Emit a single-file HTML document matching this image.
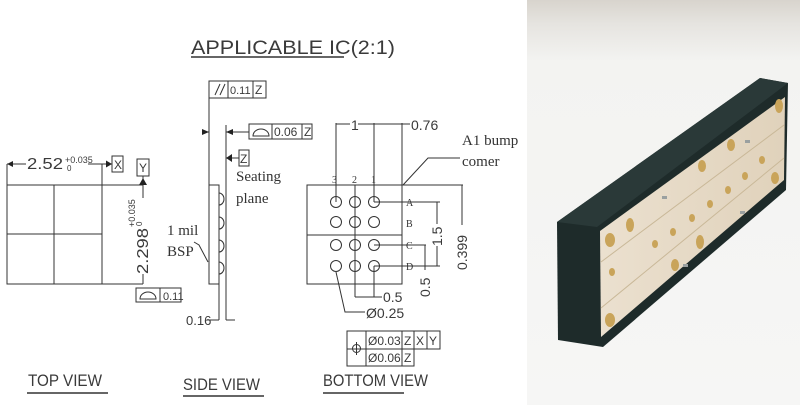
<!DOCTYPE html>
<html><head><meta charset="utf-8"><style>
html,body{margin:0;padding:0;background:#fff;}
svg{display:block}
.s{font-family:"Liberation Sans",sans-serif;fill:#3a3a3a}
.r{font-family:"Liberation Serif",serif;fill:#333}
</style></head><body>
<svg width="800" height="405" viewBox="0 0 800 405" xmlns="http://www.w3.org/2000/svg">
<rect width="800" height="405" fill="#fff"/>
<g stroke="#333" stroke-width="1" fill="none">
<line x1="191" y1="57" x2="344" y2="57" stroke-width="1.5"/>
<!-- top view -->
<rect x="7" y="185" width="95" height="99"/>
<line x1="54" y1="185" x2="54" y2="284"/>
<line x1="7" y1="234" x2="102" y2="234"/>
<line x1="7" y1="164" x2="7" y2="185"/>
<line x1="102" y1="164" x2="102" y2="185"/>
<line x1="7" y1="164" x2="26" y2="164"/>
<line x1="88" y1="164" x2="112" y2="164"/>
<rect x="112" y="156" width="11" height="16"/>
<rect x="137" y="159" width="12" height="17"/>
<line x1="143" y1="176" x2="143" y2="185"/>
<line x1="102" y1="185" x2="143" y2="185"/>
<line x1="143" y1="185" x2="143" y2="198"/>
<line x1="143" y1="274" x2="143" y2="284"/>
<line x1="102" y1="284" x2="143" y2="284"/>
<rect x="136" y="288" width="45" height="14"/>
<line x1="160" y1="288" x2="160" y2="302"/>
<path d="M140 299 A8 7 0 0 1 156 299 Z"/>
<!-- side view -->
<rect x="209" y="185" width="10" height="99"/>
<line x1="209" y1="98" x2="209" y2="185"/>
<rect x="209" y="81" width="57" height="17"/>
<line x1="228" y1="81" x2="228" y2="98"/><line x1="253" y1="81" x2="253" y2="98"/>
<line x1="215" y1="95" x2="220" y2="84"/><line x1="220" y1="95" x2="225" y2="84"/>
<line x1="226" y1="125" x2="226" y2="320"/>
<line x1="219" y1="284" x2="219" y2="320"/>
<line x1="202" y1="132" x2="209" y2="132"/>
<line x1="226" y1="132" x2="249" y2="132"/>
<rect x="249" y="124" width="63" height="15"/>
<line x1="272" y1="124" x2="272" y2="139"/><line x1="302" y1="124" x2="302" y2="139"/>
<path d="M253 136 A8 7 0 0 1 269 136 Z"/>
<rect x="239" y="150" width="10" height="16"/>
<line x1="226" y1="158" x2="239" y2="158"/>
<path d="M219 193 A5 6 0 0 1 219 205 M219 217 A5 6 0 0 1 219 229 M219 240 A5 6 0 0 1 219 252 M219 262 A5 6 0 0 1 219 274"/>
<polyline points="194,242 199,245 208,262"/>
<line x1="207" y1="320" x2="219" y2="320"/>
<line x1="226" y1="320" x2="235" y2="320"/>
<!-- bottom view -->
<rect x="307" y="185" width="95" height="99"/>
<line x1="307" y1="235" x2="402" y2="235"/>
<circle cx="336" cy="202" r="5.5"/><circle cx="355" cy="202" r="5.5"/><circle cx="374" cy="202" r="5.5"/>
<circle cx="336" cy="222" r="5.5"/><circle cx="355" cy="222" r="5.5"/><circle cx="374" cy="222" r="5.5"/>
<circle cx="336" cy="245" r="5.5"/><circle cx="355" cy="245" r="5.5"/><circle cx="374" cy="245" r="5.5"/>
<circle cx="336" cy="266" r="5.5"/><circle cx="355" cy="266" r="5.5"/><circle cx="374" cy="266" r="5.5"/>
<line x1="336" y1="123" x2="336" y2="202"/>
<line x1="374" y1="123" x2="374" y2="202"/>
<line x1="402" y1="123" x2="402" y2="185"/>
<line x1="336" y1="124" x2="350" y2="124"/><line x1="358" y1="124" x2="410" y2="124"/>
<line x1="355" y1="185" x2="355" y2="297"/>
<line x1="374" y1="266" x2="374" y2="297"/>
<line x1="355" y1="297" x2="382" y2="297"/>
<polyline points="403,185 428,158 460,158"/>
<line x1="374" y1="202" x2="440" y2="202"/>
<line x1="374" y1="266" x2="440" y2="266"/>
<line x1="374" y1="245" x2="426" y2="245"/>
<line x1="437" y1="202" x2="437" y2="224"/><line x1="437" y1="246" x2="437" y2="266"/>
<line x1="425" y1="245" x2="425" y2="270"/>
<line x1="402" y1="185" x2="463" y2="185"/>
<line x1="462" y1="185" x2="462" y2="225"/>
<polyline points="336,272 345,312 365,312"/>
<rect x="347" y="331" width="93" height="18"/>
<rect x="347" y="331" width="67" height="35"/>
<line x1="366" y1="331" x2="366" y2="366"/>
<line x1="402" y1="331" x2="402" y2="366"/>
<line x1="427" y1="331" x2="427" y2="349"/>
<circle cx="356.5" cy="348.5" r="4"/><line x1="356.5" y1="342" x2="356.5" y2="355"/>
<line x1="27" y1="393" x2="108" y2="393" stroke-width="1.5"/>
<line x1="183" y1="396" x2="264" y2="396" stroke-width="1.5"/>
<line x1="323" y1="393" x2="404" y2="393" stroke-width="1.5"/>
</g>
<g fill="#222">
<path d="M7 164 l6 -3 v6z"/>
<path d="M112 164 l-6 -3.5 v7z"/>
<path d="M143 178 l-4 7 h8z"/>
<path d="M209 132 l-7 -3 v6z M226 132 l7 -3 v6z"/>
<path d="M226 158 l6 -4 v8z"/>
</g>
<text class="s" x="191" y="54" font-size="19" textLength="204" lengthAdjust="spacingAndGlyphs">APPLICABLE IC(2:1)</text>
<text class="s" x="27" y="169" font-size="16" textLength="36" lengthAdjust="spacingAndGlyphs">2.52</text>
<text class="s" x="65" y="163" font-size="9">+0.035</text>
<text class="s" x="67" y="171" font-size="8">0</text>
<text class="s" x="114" y="169" font-size="12">X</text>
<text class="s" x="139" y="172" font-size="12">Y</text>
<text class="s" transform="translate(148,274) rotate(-90)" font-size="16" x="0" y="0" textLength="46" lengthAdjust="spacingAndGlyphs">2.298</text>
<text class="s" transform="translate(135,227) rotate(-90)" font-size="9">+0.035</text>
<text class="s" transform="translate(142,226) rotate(-90)" font-size="8">0</text>
<text class="s" x="163" y="300" font-size="11">0.11</text>
<text class="s" x="230" y="94" font-size="11">0.11</text>
<text class="s" x="255" y="94" font-size="12">Z</text>
<text class="s" x="274" y="136" font-size="12">0.06</text>
<text class="s" x="304" y="136" font-size="12">Z</text>
<text class="s" x="240" y="163" font-size="12">Z</text>
<text class="r" x="236" y="181" font-size="15">Seating</text>
<text class="r" x="236" y="203" font-size="15">plane</text>
<text class="r" x="167" y="235" font-size="15">1 mil</text>
<text class="r" x="167" y="256" font-size="15">BSP</text>
<text class="s" x="186" y="325" font-size="13">0.16</text>
<text class="s" x="351" y="130" font-size="14">1</text>
<text class="s" x="411" y="130" font-size="14">0.76</text>
<text class="r" x="462" y="145" font-size="15">A1 bump</text>
<text class="r" x="462" y="166" font-size="15">comer</text>
<text class="r" x="332" y="183" font-size="10">3</text>
<text class="r" x="352" y="183" font-size="10">2</text>
<text class="r" x="371" y="183" font-size="10">1</text>
<text class="r" x="406" y="206" font-size="10">A</text>
<text class="r" x="406" y="227" font-size="10">B</text>
<text class="r" x="406" y="249" font-size="10">C</text>
<text class="r" x="406" y="270" font-size="10">D</text>
<text class="s" transform="translate(442,246) rotate(-90)" font-size="14">1.5</text>
<text class="s" transform="translate(430,297) rotate(-90)" font-size="14">0.5</text>
<text class="s" transform="translate(467,270) rotate(-90)" font-size="14">0.399</text>
<text class="s" x="383" y="302" font-size="14">0.5</text>
<text class="s" x="366" y="318" font-size="14">Ø0.25</text>
<text class="s" x="368" y="345" font-size="12">Ø0.03</text>
<text class="s" x="404" y="345" font-size="12">Z</text>
<text class="s" x="416" y="345" font-size="12">X</text>
<text class="s" x="429" y="345" font-size="12">Y</text>
<text class="s" x="368" y="362" font-size="12">Ø0.06</text>
<text class="s" x="404" y="362" font-size="12">Z</text>
<text class="s" x="28" y="386" font-size="17" textLength="74" lengthAdjust="spacingAndGlyphs">TOP VIEW</text>
<text class="s" x="183" y="390" font-size="17" textLength="77" lengthAdjust="spacingAndGlyphs">SIDE VIEW</text>
<text class="s" x="323" y="386" font-size="17" textLength="105" lengthAdjust="spacingAndGlyphs">BOTTOM VIEW</text>
<defs>
<linearGradient id="bg" x1="0" y1="0" x2="0" y2="1">
<stop offset="0" stop-color="#d8d4cd"/><stop offset="0.06" stop-color="#e6e4e0"/><stop offset="0.15" stop-color="#f3f3f1"/><stop offset="1" stop-color="#f6f6f5"/>
</linearGradient>
<linearGradient id="pl" x1="0" y1="0" x2="1" y2="0">
<stop offset="0" stop-color="#ebe0cf"/><stop offset="1" stop-color="#e0d2bb"/>
</linearGradient>
</defs>
<rect x="527" y="0" width="273" height="405" fill="url(#bg)"/>
<polygon points="557,222 760,78 788,83 786,190 603,347 558,340" fill="#1e2b2a"/>
<polygon points="557,222 760,78 788,83 597,227" fill="#2a3938"/>
<polygon points="600,231 785,97 784,180 601,337" fill="url(#pl)"/>
<g stroke="#c9b898" stroke-width="1">
<line x1="601" y1="262" x2="784" y2="125"/>
<line x1="601" y1="308" x2="784" y2="158"/>
</g>
<g fill="#c9a45a">
<ellipse cx="610" cy="240" rx="5" ry="7"/><ellipse cx="630" cy="225" rx="4" ry="7"/><ellipse cx="702" cy="166" rx="4" ry="6"/><ellipse cx="731" cy="145" rx="4" ry="6"/><ellipse cx="779" cy="106" rx="4" ry="7"/>
<ellipse cx="610" cy="320" rx="5" ry="7"/><ellipse cx="700" cy="242" rx="4" ry="7"/><ellipse cx="675" cy="265" rx="4" ry="6"/><ellipse cx="775" cy="178" rx="4" ry="6"/>
<ellipse cx="612" cy="272" rx="3" ry="4"/><ellipse cx="655" cy="244" rx="3" ry="4"/><ellipse cx="673" cy="232" rx="3" ry="4"/><ellipse cx="692" cy="218" rx="3" ry="4"/><ellipse cx="710" cy="204" rx="3" ry="4"/><ellipse cx="728" cy="190" rx="3" ry="4"/><ellipse cx="745" cy="176" rx="3" ry="4"/><ellipse cx="762" cy="160" rx="3" ry="4"/>
</g>
<g fill="#9aa0a0"><rect x="683" y="264" width="5" height="3"/><rect x="662" y="196" width="5" height="3"/><rect x="740" y="211" width="5" height="3"/><rect x="745" y="140" width="5" height="3"/></g>
</svg>
</body></html>
